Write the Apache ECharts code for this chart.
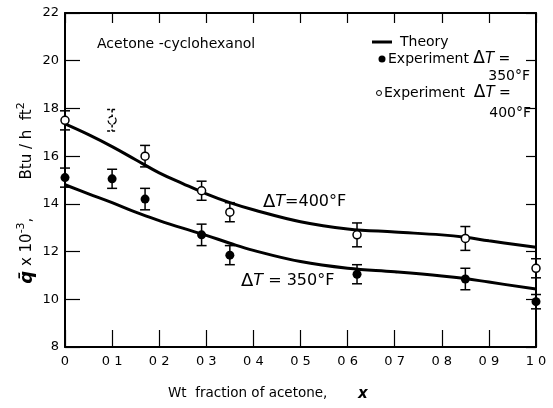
<!DOCTYPE html>
<html><head><meta charset="utf-8">
<script src="https://cdn.jsdelivr.net/npm/echarts@6/dist/echarts.min.js"></script>
<style>html,body{margin:0;padding:0;background:#fff}#c{width:553px;height:408px}</style>
</head><body><div id="c"></div>
<script>
// ---- data ----
const xTickLabels = ['0','0 1','0 2','0 3','0 4','0 5','0 6','0 7','0 8','0 9','1 0'];
const yTickLabels = {8:'8',10:'10',12:'12',14:'14',16:'16',18:'18',20:'20',22:'22'};

const theoryX   = [0, 0.05, 0.1, 0.15, 0.2, 0.25, 0.3, 0.35, 0.4, 0.5, 0.6, 0.7, 0.8, 0.85, 0.9, 1.0];
const theory400 = [17.35, 16.9, 16.4, 15.85, 15.3, 14.85, 14.42, 14.05, 13.75, 13.25, 12.95, 12.82, 12.7, 12.6, 12.45, 12.18];
const theory350 = [14.8, 14.42, 14.05, 13.65, 13.3, 12.98, 12.68, 12.35, 12.05, 11.58, 11.3, 11.15, 10.98, 10.87, 10.72, 10.43];

const exp400X   = [0, 0.17, 0.29, 0.35, 0.62, 0.85, 1.0];
const exp400    = [17.5, 16.0, 14.55, 13.65, 12.7, 12.55, 11.3];
const exp400Err = [0.4, 0.45, 0.4, 0.4, 0.5, 0.5, 0.4];

const doubt400X   = [0.1];
const doubt400    = [17.5];
const doubt400Err = [0.45];

const exp350X   = [0, 0.1, 0.17, 0.29, 0.35, 0.62, 0.85, 1.0];
const exp350    = [15.1, 15.05, 14.2, 12.7, 11.85, 11.05, 10.85, 9.9];
const exp350Err = [0.4, 0.4, 0.45, 0.45, 0.4, 0.4, 0.45, 0.3];

// ---- chart ----
const FONT = '"DejaVu Sans", Verdana, sans-serif';
const pair = (xs, ys) => xs.map((x, i) => [x, ys[i]]);
const triple = (xs, ys, es) => xs.map((x, i) => [x, ys[i], es[i]]);

function errRender(dashed) {
  return function (params, api) {
    const x = api.value(0), y = api.value(1), e = api.value(2);
    const t = api.coord([x, y + e]);
    const b = api.coord([x, y - e]);
    const w = 5;
    const st = {stroke: '#000', lineWidth: 1.5, lineDash: dashed ? [3, 2] : null};
    return {type: 'group', children: [
      {type: 'line', shape: {x1: t[0], y1: t[1], x2: b[0], y2: b[1]}, style: st},
      {type: 'line', shape: {x1: t[0] - w, y1: t[1], x2: t[0] + w, y2: t[1]}, style: st},
      {type: 'line', shape: {x1: b[0] - w, y1: b[1], x2: b[0] + w, y2: b[1]}, style: st}
    ]};
  };
}

const axisLine = {show: true, onZero: false, lineStyle: {color: '#000', width: 2}};
const tick = len => ({show: true, inside: true, length: len, lineStyle: {color: '#000', width: 1.2}});
const richDT = (size) => ({d: {fontSize: size + 2, fontFamily: FONT}, t: {fontSize: size, fontStyle: 'italic', fontFamily: FONT}});

const chart = echarts.init(document.getElementById('c'), null, {renderer: 'canvas'});
chart.setOption({
  animation: false,
  backgroundColor: '#fff',
  grid: {left: 65, right: 17, top: 13, bottom: 61, containLabel: false, outerBoundsMode: 'none'},
  xAxis: [
    {type: 'value', min: 0, max: 1, interval: 0.1, position: 'bottom',
     axisLine, axisTick: tick(17), splitLine: {show: false},
     axisLabel: {color: '#000', fontSize: 13, fontFamily: FONT, margin: 8,
                 formatter: v => xTickLabels[Math.round(v * 10)]}},
    {type: 'value', min: 0, max: 1, interval: 0.1, position: 'top',
     axisLine, axisTick: tick(10), splitLine: {show: false}, axisLabel: {show: false}}
  ],
  yAxis: [
    {type: 'value', min: 8, max: 22, interval: 2, position: 'left',
     axisLine, axisTick: tick(15), splitLine: {show: false},
     axisLabel: {color: '#000', fontSize: 13, fontFamily: FONT, margin: 6,
                 formatter: v => yTickLabels[Math.round(v)]}},
    {type: 'value', min: 8, max: 22, interval: 2, position: 'right',
     axisLine, axisTick: tick(10), splitLine: {show: false}, axisLabel: {show: false}}
  ],
  series: [
    {name: 'Theory 400', type: 'line', data: pair(theoryX, theory400), smooth: 0.4, showSymbol: false,
     lineStyle: {color: '#000', width: 3}, z: 2},
    {name: 'Theory 350', type: 'line', data: pair(theoryX, theory350), smooth: 0.4, showSymbol: false,
     lineStyle: {color: '#000', width: 3}, z: 2},
    {type: 'custom', renderItem: errRender(false), data: triple(exp400X, exp400, exp400Err), encode: {x: 0, y: 1}, z: 3, clip: false},
    {type: 'custom', renderItem: errRender(true), data: triple(doubt400X, doubt400, doubt400Err), encode: {x: 0, y: 1}, z: 3, clip: false},
    {type: 'custom', renderItem: errRender(false), data: triple(exp350X, exp350, exp350Err), encode: {x: 0, y: 1}, z: 3, clip: false},
    {name: 'Experiment 400', type: 'scatter', data: pair(exp400X, exp400), symbol: 'circle', symbolSize: 8,
     itemStyle: {color: '#fff', borderColor: '#000', borderWidth: 1.5, opacity: 1}, z: 4, clip: false},
    {name: 'Doubtful 400', type: 'scatter', data: pair(doubt400X, doubt400), symbol: 'circle', symbolSize: 8,
     itemStyle: {color: '#fff', borderColor: '#000', borderWidth: 1.2, borderType: 'dashed', opacity: 1}, z: 4},
    {name: 'Experiment 350', type: 'scatter', data: pair(exp350X, exp350), symbol: 'circle', symbolSize: 9,
     itemStyle: {color: '#000', opacity: 1}, z: 4, clip: false}
  ],
  graphic: [
    {type: 'text', x: 97, y: 44, style: {text: 'Acetone -cyclohexanol', fill: '#000', font: '14px ' + FONT, verticalAlign: 'middle'}},
    // legend
    {type: 'line', shape: {x1: 372, y1: 42, x2: 392, y2: 42}, style: {stroke: '#000', lineWidth: 3}},
    {type: 'text', x: 400, y: 42, style: {text: 'Theory', fill: '#000', font: '14px ' + FONT, verticalAlign: 'middle'}},
    {type: 'circle', shape: {cx: 382, cy: 59, r: 3.5}, style: {fill: '#000'}},
    {type: 'text', x: 388, y: 59, style: {text: 'Experiment {d|Δ}{t|T} =', fill: '#000', font: '14px ' + FONT, verticalAlign: 'middle',
      rich: richDT(15)}},
    {type: 'text', x: 530, y: 76, style: {text: '350°F', fill: '#000', font: '14px ' + FONT, align: 'right', verticalAlign: 'middle'}},
    {type: 'circle', shape: {cx: 379, cy: 93, r: 2.5}, style: {fill: '#fff', stroke: '#000', lineWidth: 1}},
    {type: 'text', x: 384, y: 93, style: {text: 'Experiment  {d|Δ}{t|T} =', fill: '#000', font: '14px ' + FONT, verticalAlign: 'middle',
      rich: richDT(15)}},
    {type: 'text', x: 531, y: 113, style: {text: '400°F', fill: '#000', font: '14px ' + FONT, align: 'right', verticalAlign: 'middle'}},
    // curve annotations
    {type: 'text', x: 263, y: 202, style: {text: '{d|Δ}{t|T}=400°F', fill: '#000', font: '16px ' + FONT, verticalAlign: 'middle',
      rich: richDT(16)}},
    {type: 'text', x: 241, y: 281, style: {text: '{d|Δ}{t|T} = 350°F', fill: '#000', font: '16px ' + FONT, verticalAlign: 'middle',
      rich: richDT(16)}},
    // axis titles
    {type: 'text', x: 168, y: 393, style: {text: 'Wt  fraction of acetone,', fill: '#000', font: '13.5px ' + FONT, verticalAlign: 'middle'}},
    {type: 'text', x: 358, y: 394, style: {text: 'x', fill: '#000', font: 'italic bold 15px ' + FONT, verticalAlign: 'middle'}},
    {type: 'text', x: 27, y: 193, rotation: Math.PI / 2,
     style: {text: '{q|q\u0304} x 10{s|-3},        Btu / h  ft{s|2}', fill: '#000', font: '15px ' + FONT,
       align: 'center', verticalAlign: 'middle',
       rich: {q: {fontSize: 18, fontStyle: 'italic', fontWeight: 'bold', fontFamily: FONT, lineHeight: 22},
              s: {fontSize: 11, fontFamily: FONT, verticalAlign: 'top', lineHeight: 22}}}}
  ]
});
</script>
</body></html>
